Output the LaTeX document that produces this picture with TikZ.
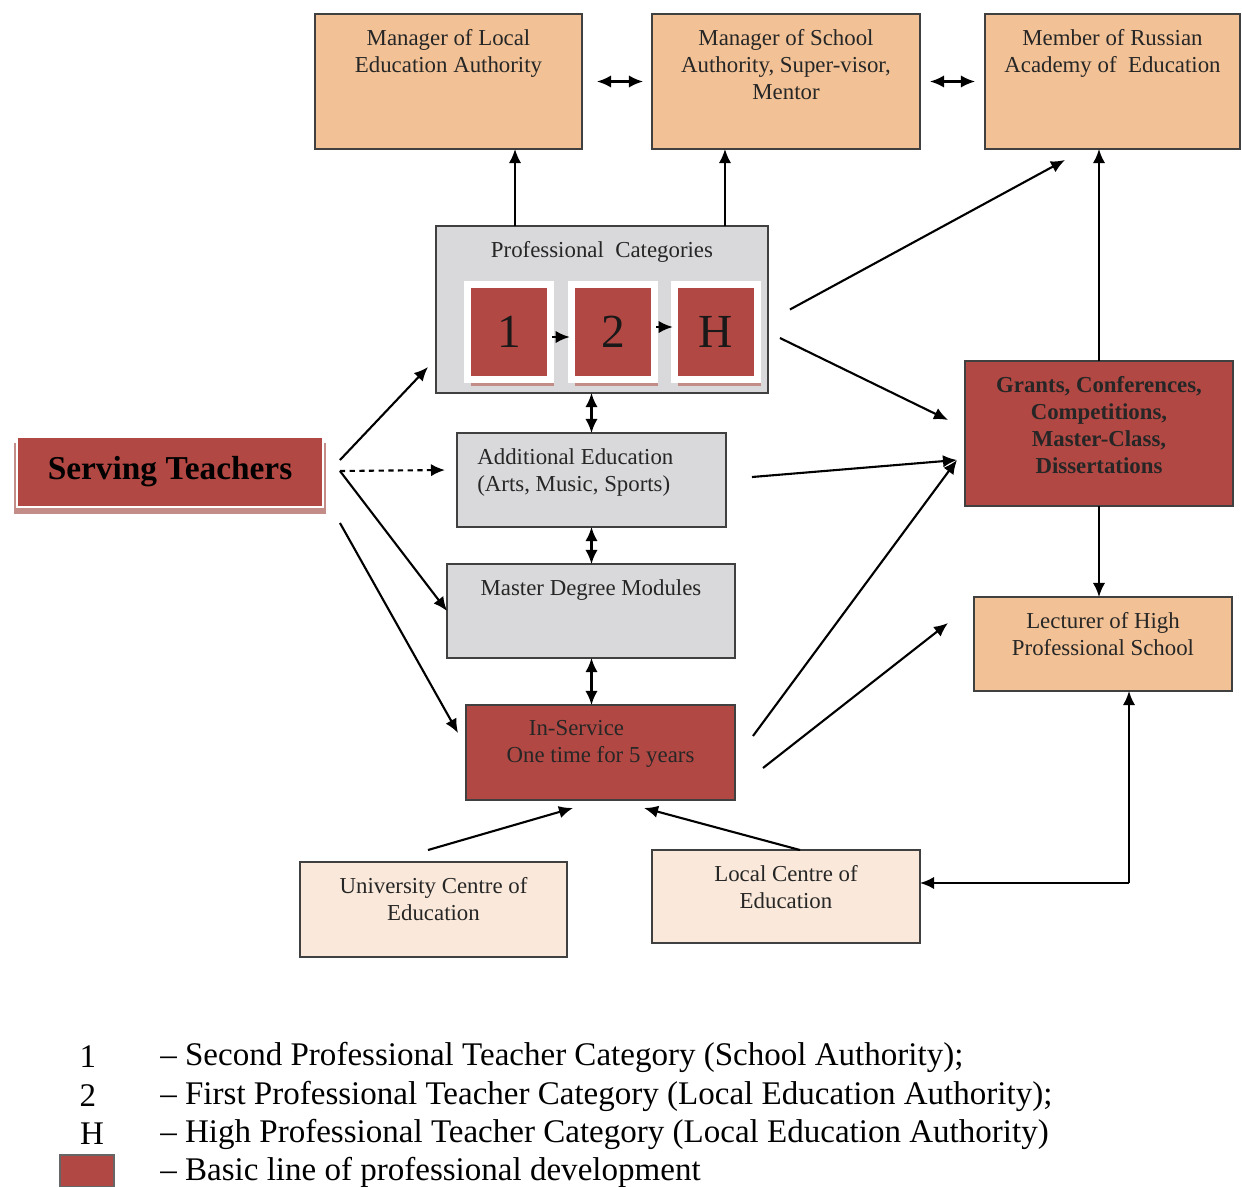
\documentclass[tikz,border=0pt]{standalone}
\usepackage{fontspec}
\setmainfont{Liberation Serif}
\usepackage{tikz}
\usetikzlibrary{arrows.meta,shadows}
\definecolor{boxorange}{RGB}{242,194,150}
\definecolor{boxred}{RGB}{178,72,67}
\definecolor{boxgray}{RGB}{217,217,219}
\definecolor{boxpeach}{RGB}{250,233,218}
\definecolor{shadowred}{RGB}{196,140,134}
\newcommand{\boxfont}{\fontsize{13}{15.3}\selectfont}
\newcommand{\legfont}{\fontsize{18.8}{22}\selectfont}

\begin{document}
\begin{tikzpicture}[
  x=0.02cm, y=-0.02cm,
  font=\boxfont,
  box/.style={draw=black!75, line width=1.1pt, inner sep=0pt, outer sep=0pt},
  obox/.style={box, fill=boxorange},
  gbox/.style={box, fill=boxgray},
  rbox/.style={box, fill=boxred},
  pbox/.style={box, fill=boxpeach},
  inlbl/.style={align=center, inner sep=0pt, anchor=north, yshift=-0.3cm, text=black!85},
  intext/.style={label={[inlbl]north:{#1}}},
  catbox/.style={fill=boxred, draw=white, line width=4pt, outer sep=0pt,
                 minimum width=1.66cm, minimum height=1.9cm,
                 font=\fontsize{27}{30}\selectfont, text=black!90,
                 drop shadow={shadow xshift=2pt, shadow yshift=-3.5pt,
                              fill=shadowred, opacity=1}},
  arr/.style={-{Latex[length=8pt,width=7pt]}, line width=1.2pt},
  darr/.style={{Latex[length=8pt,width=7pt]}-{Latex[length=8pt,width=7pt]}, line width=1.2pt},
  leg/.style={font=\legfont, inner sep=0pt},
]
\useasboundingbox (0,0) rectangle (1242,1187);

% top row
\node[obox, minimum width=5.34cm, minimum height=2.7cm,
  intext={Manager of Local\\Education Authority}] (mla) at (448.5,81.5) {};
\node[obox, minimum width=5.36cm, minimum height=2.7cm,
  intext={Manager of School\\Authority, Super-visor,\\Mentor}] (msa) at (786,81.5) {};
\node[obox, minimum width=5.1cm, minimum height=2.7cm,
  intext={Member of Russian\\Academy of\ \ Education}] (mra) at (1112.5,81.5) {};

% categories
\node[gbox, minimum width=6.64cm, minimum height=3.34cm,
  intext={Professional\ \ Categories}] (pcat) at (602,309.5) {};
\node[catbox] (cat1) at (509,332) {1};
\node[catbox] (cat2) at (613,332) {2};
\node[catbox] (catH) at (716,332) {H};

\node[rbox, draw=white, line width=1.5pt, minimum width=6.12cm, minimum height=1.4cm,
  font=\fontsize{19}{22}\selectfont\bfseries,
  drop shadow={shadow xshift=0pt, shadow yshift=-3.5pt, shadow scale=1.02,
               fill=shadowred, opacity=1}]
  (serv) at (170,472) {Serving Teachers};

% middle column
\node[gbox, minimum width=5.38cm, minimum height=1.88cm,
  label={[inlbl, align=left, anchor=north west, xshift=0.4cm]north west:{Additional Education\\(Arts, Music, Sports)}}]
  (addl) at (591.5,480) {};
\node[gbox, minimum width=5.76cm, minimum height=1.88cm,
  intext={Master Degree Modules}] (mdm) at (591,611) {};
\node[rbox, minimum width=5.38cm, minimum height=1.9cm,
  intext={In-Service\hspace*{0.96cm}\\One time for 5 years}] (insv) at (600.5,752.5) {};

% right column
\node[rbox, minimum width=5.36cm, minimum height=2.9cm,
  label={[inlbl, font=\boxfont\bfseries]north:{Grants, Conferences,\\Competitions,\\Master-Class,\\Dissertations}}]
  (grants) at (1099,433.5) {};
\node[obox, minimum width=5.16cm, minimum height=1.88cm,
  intext={Lecturer of High\\Professional School}] (lect) at (1103,644) {};

% bottom row
\node[pbox, minimum width=5.34cm, minimum height=1.9cm,
  intext={University Centre of\\Education}] (ucen) at (433.5,909.5) {};
\node[pbox, minimum width=5.36cm, minimum height=1.86cm,
  intext={Local Centre of\\Education}] (lcen) at (786,896.5) {};
\coordinate (crn) at (1129,883);

% connectors
\draw[darr, shorten <=0.3cm, shorten >=0.18cm] (mla.east) -- (msa.west);
\draw[darr, shorten <=0.2cm, shorten >=0.2cm] (msa.east) -- (mra.west);
\draw[arr] ([xshift=1.58cm]pcat.north west) -- ([xshift=1.58cm]pcat.north west |- mla.south);
\draw[arr] ([xshift=5.78cm]pcat.north west) -- ([xshift=5.78cm]pcat.north west |- msa.south);
\draw[arr] ([xshift=0.44cm]pcat.east) -- ([xshift=-0.95cm, yshift=-0.22cm]mra.south);
\draw[arr] ([xshift=0.24cm, yshift=-0.57cm]pcat.east) -- ([xshift=-0.34cm, yshift=0.27cm]grants.west);
\draw[arr] (grants.north) -- (grants.north |- mra.south);
\draw[arr] (grants.south) -- (grants.south |- lect.north);
\draw[arr, shorten <=1pt, shorten >=1pt] ([yshift=-0.1cm]cat1.east) -- ([yshift=-0.1cm]cat1.east -| cat2.west);
\draw[arr, shorten <=1pt, shorten >=1pt] ([yshift=0.1cm]cat2.east) -- ([yshift=0.1cm]cat2.east -| catH.west);

\draw[darr] (addl.north |- pcat.south) -- (addl.north);
\draw[darr] (addl.south) -- (addl.south |- mdm.north);
\draw[darr] (mdm.south -| addl.south) -- (insv.north -| addl.south);

\draw[arr] ([xshift=0.34cm, yshift=0.24cm]serv.east) -- ([xshift=-0.16cm, yshift=0.52cm]pcat.south west);
\draw[arr, dash pattern=on 3pt off 2.5pt] ([xshift=0.34cm, yshift=0.02cm]serv.east) -- ([xshift=-0.24cm, yshift=0.2cm]addl.west);
\draw[arr] ([xshift=0.34cm, yshift=0.02cm]serv.east) -- (mdm.west);
\draw[arr] ([xshift=0.34cm, yshift=-0.32cm]serv.south east) -- ([xshift=-0.16cm, yshift=0.39cm]insv.west);

\draw[arr] ([xshift=0.52cm, yshift=0.06cm]addl.east) -- ([xshift=-0.16cm, yshift=-0.53cm]grants.west);
\draw[arr] ([xshift=0.36cm, yshift=0.33cm]insv.east) -- ([xshift=-0.16cm, yshift=-0.53cm]grants.west);
\draw[arr] ([xshift=0.56cm, yshift=-0.31cm]insv.east) -- ([xshift=-0.52cm, yshift=0.42cm]lect.west);

\draw[arr] ([xshift=-0.11cm, yshift=0.24cm]ucen.north) -- ([xshift=-0.55cm, yshift=-0.16cm]insv.south);
\draw[arr] ([xshift=0.28cm]lcen.north) -- ([xshift=0.87cm, yshift=-0.16cm]insv.south);
\draw[arr] (crn) -- (crn |- lect.south);
\draw[arr] (crn) -- (crn -| lcen.east);

% legend
\node[leg] (key1) at (88,1057) {1};
\node[leg] (key2) at (88,1096) {2};
\node[leg] (keyH) at (92,1134) {H};
\node[rbox, draw=black!60, line width=0.6pt, minimum width=1.08cm, minimum height=0.64cm] (keyr) at (87,1171) {};
\node[leg, anchor=west] (txt1) at (160,1057) {-- Second Professional Teacher Category (School Authority);};
\node[leg, anchor=west] (txt2) at (160,1096) {-- First Professional Teacher Category (Local Education Authority);};
\node[leg, anchor=west] (txtH) at (160,1134) {-- High Professional Teacher Category (Local Education Authority)};
\node[leg, anchor=west] (txtr) at (160,1172) {-- Basic line of professional development};
\end{tikzpicture}
\end{document}
